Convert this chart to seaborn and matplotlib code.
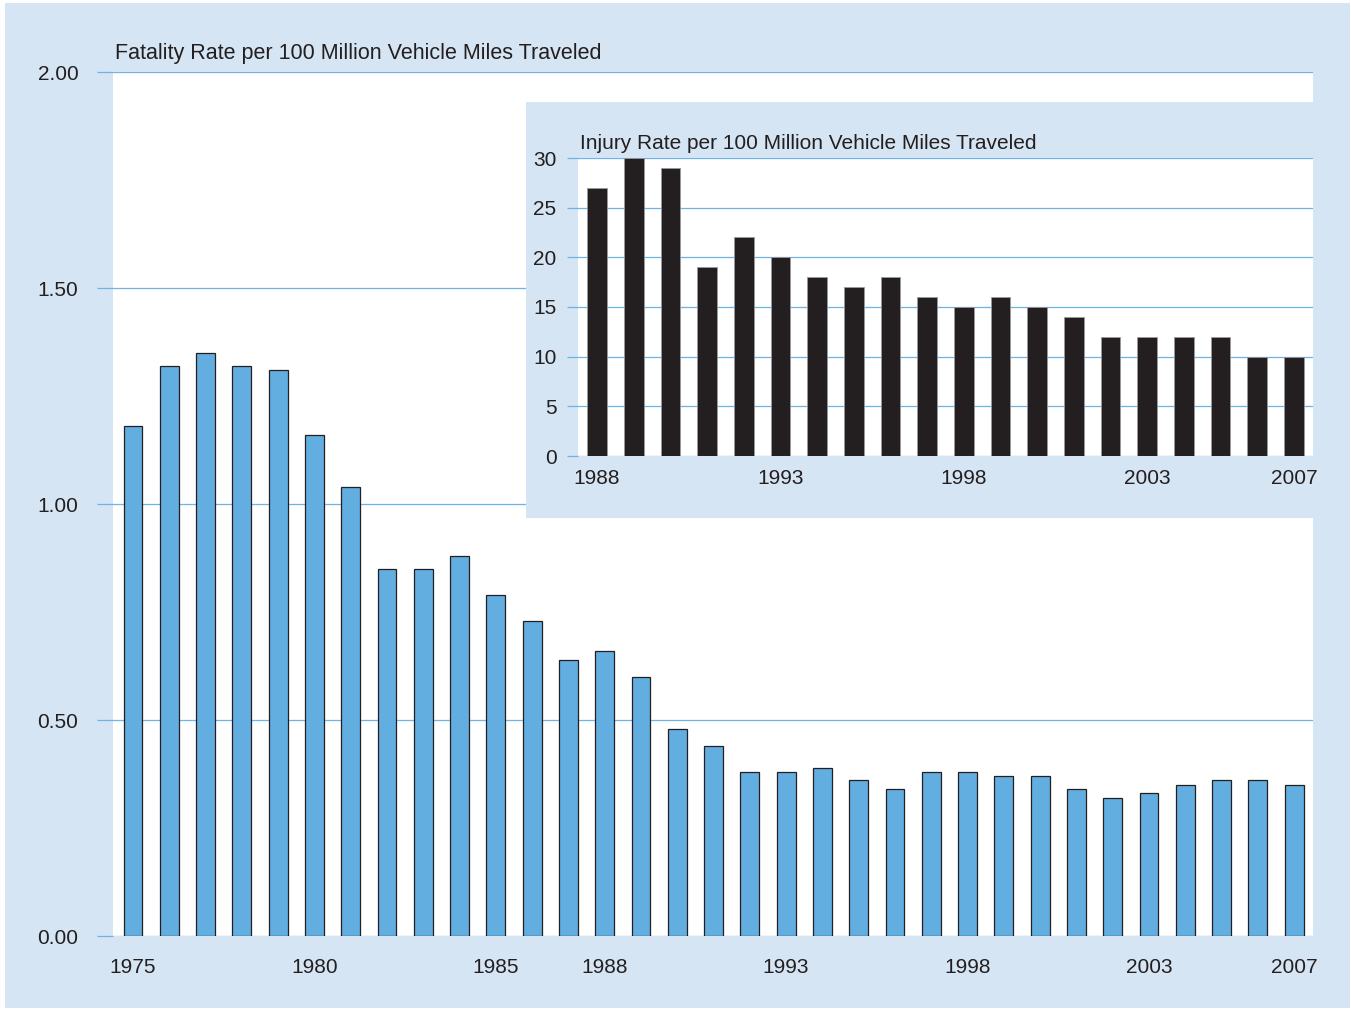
import pandas as pd
import seaborn as sns
import matplotlib.pyplot as plt
from matplotlib.patches import Rectangle

# data
fatal_years = list(range(1975, 2008))
fatal_rate = [1.18, 1.32, 1.35, 1.32, 1.31, 1.16, 1.04, 0.85, 0.85, 0.88,
              0.79, 0.73, 0.64, 0.66, 0.60, 0.48, 0.44, 0.38, 0.38, 0.39,
              0.36, 0.34, 0.38, 0.38, 0.37, 0.37, 0.34, 0.32, 0.33, 0.35,
              0.36, 0.36, 0.35]
fatal_ticks = [1975, 1980, 1985, 1988, 1993, 1998, 2003, 2007]

injury_years = list(range(1988, 2008))
injury_rate = [27, 30, 29, 19, 22, 20, 18, 17, 18, 16,
               15, 16, 15, 14, 12, 12, 12, 12, 10, 10]
injury_ticks = [1988, 1993, 1998, 2003, 2007]

fatal_df = pd.DataFrame({"year": fatal_years, "rate": fatal_rate})
injury_df = pd.DataFrame({"year": injury_years, "rate": injury_rate})

panel_blue = "#d6e5f3"
grid_blue = "#6db3e4"
bar_blue = "#63aee0"
ink = "#231f20"

sns.set_style("white")
plt.rcParams['font.family'] = ['Liberation Sans', 'DejaVu Sans']
plt.rcParams['text.color'] = ink

W, H = 1351, 1010
fig = plt.figure(figsize=(W / 100, H / 100), dpi=100, facecolor="white")

def fx(px):
    return px / W

def fy(py):
    return 1 - py / H

# outer light blue panel
fig.add_artist(Rectangle((fx(5), fy(1008)), fx(1350) - fx(5), fy(3) - fy(1008),
                         transform=fig.transFigure, facecolor=panel_blue,
                         edgecolor="none", zorder=-1))

# main chart
ax = fig.add_axes([fx(113), fy(936), fx(1313) - fx(113), fy(72) - fy(936)])
sns.barplot(data=fatal_df, x="year", y="rate", order=fatal_years, ax=ax,
            color=bar_blue, edgecolor=ink, linewidth=0.9, width=0.52,
            saturation=1)
ax.set_facecolor("white")
ax.set_ylim(0, 2.0)
ax.set_xlim(-0.55, len(fatal_years) - 0.48)
ax.set_yticks([0, 0.5, 1.0, 1.5, 2.0])
ax.set_yticklabels(["0.00", "0.50", "1.00", "1.50", "2.00"])
ax.set_xticks([fatal_years.index(y) for y in fatal_ticks])
ax.set_xticklabels([str(y) for y in fatal_ticks])
ax.set_xlabel("")
ax.set_ylabel("")
ax.yaxis.grid(True, color=grid_blue, linewidth=0.9)
ax.set_axisbelow(True)
ax.tick_params(axis="y", length=11.5, width=0.9, color=grid_blue, pad=13.5,
               labelsize=15, labelcolor=ink, direction="out", left=True)
ax.tick_params(axis="x", length=0, pad=16, labelsize=15, labelcolor=ink)
for s in ax.spines.values():
    s.set_visible(False)
fig.text(fx(115), fy(59), "Fatality Rate per 100 Million Vehicle Miles Traveled",
         fontsize=15.5, va="baseline", ha="left", color=ink)

# inset panel
fig.add_artist(Rectangle((fx(526), fy(518)), fx(1313) - fx(526), fy(102) - fy(518),
                         transform=fig.transFigure, facecolor=panel_blue,
                         edgecolor="none", zorder=1))

ax2 = fig.add_axes([fx(578), fy(456), fx(1313) - fx(578), fy(158) - fy(456)])
ax2.set_zorder(2)
sns.barplot(data=injury_df, x="year", y="rate", order=injury_years, ax=ax2,
            color=ink, edgecolor="#9a9a9a", linewidth=0.6, width=0.54,
            saturation=1)
ax2.set_facecolor("white")
ax2.set_ylim(0, 30)
ax2.set_xlim(-0.52, len(injury_years) - 0.48)
ax2.set_yticks([0, 5, 10, 15, 20, 25, 30])
ax2.set_xticks([injury_years.index(y) for y in injury_ticks])
ax2.set_xticklabels([str(y) for y in injury_ticks])
ax2.set_xlabel("")
ax2.set_ylabel("")
ax2.yaxis.grid(True, color=grid_blue, linewidth=0.9)
ax2.set_axisbelow(True)
ax2.tick_params(axis="y", length=8, width=0.9, color=grid_blue, pad=7.5,
                labelsize=15, labelcolor=ink, direction="out", left=True)
ax2.tick_params(axis="x", length=0, pad=9, labelsize=15, labelcolor=ink)
for s in ax2.spines.values():
    s.set_visible(False)
fig.text(fx(580), fy(149), "Injury Rate per 100 Million Vehicle Miles Traveled",
         fontsize=15, va="baseline", ha="left", color=ink, zorder=3)

fig.savefig("out.png", dpi=100, facecolor="white")
